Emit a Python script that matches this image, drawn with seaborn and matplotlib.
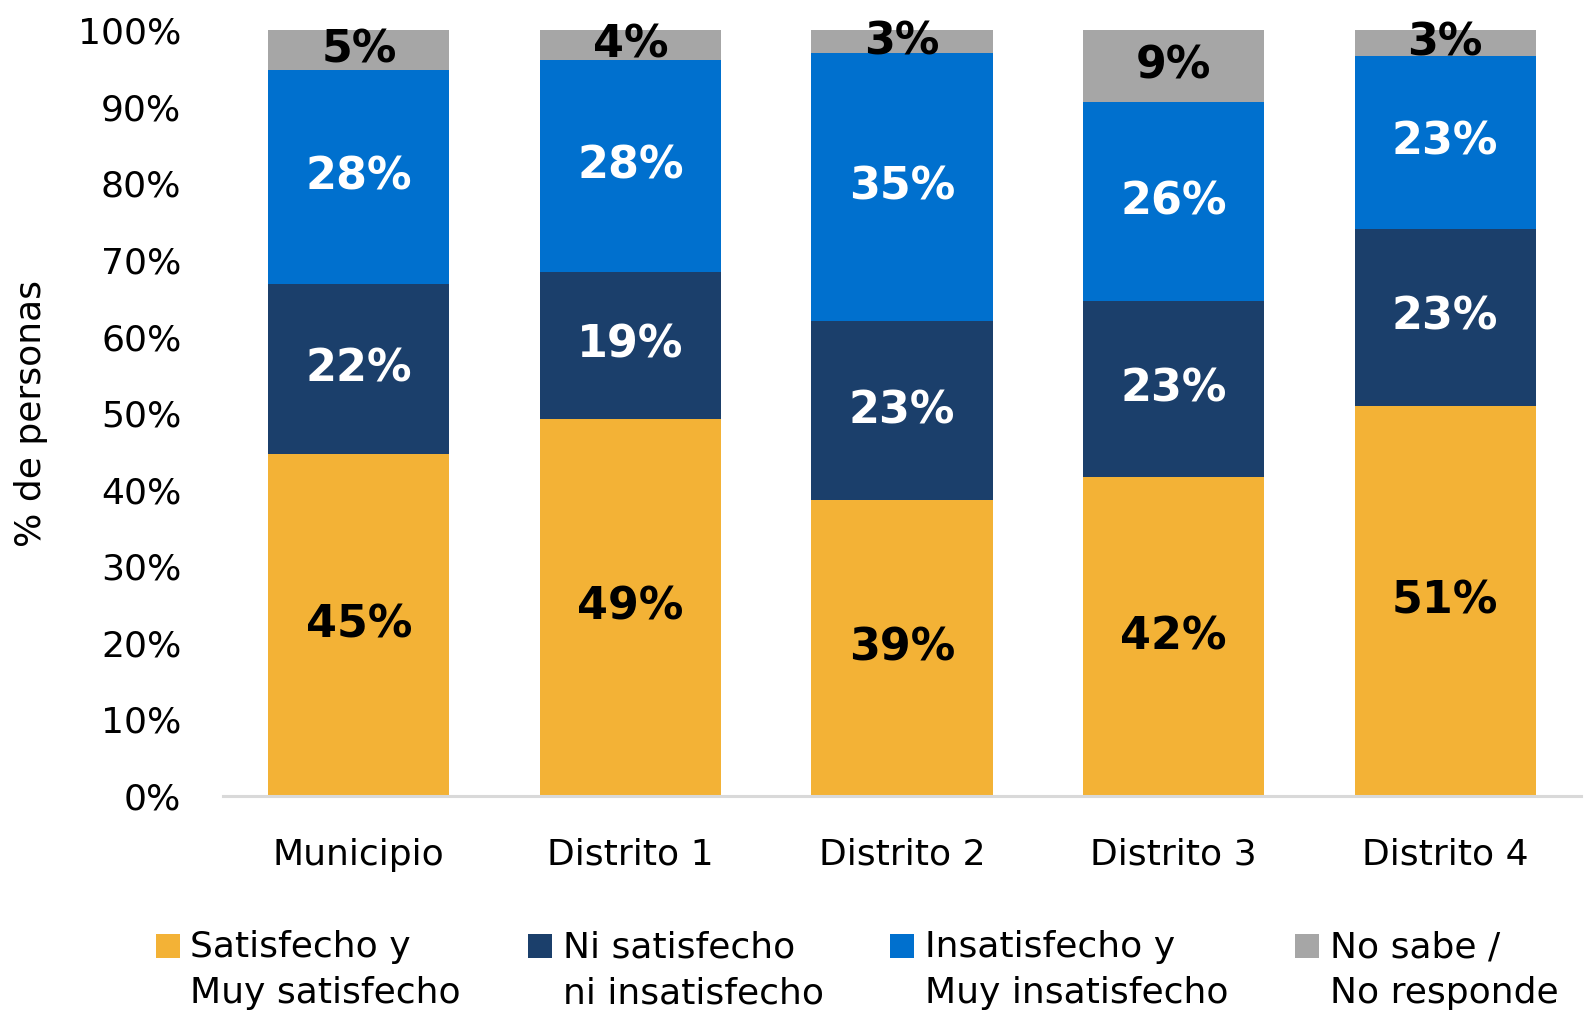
import numpy as np
import pandas as pd
import seaborn as sns
import matplotlib.pyplot as plt
from matplotlib.patches import Patch, Rectangle
from matplotlib.legend_handler import HandlerPatch

# datos (% de personas)
zonas = ['Municipio', 'Distrito 1', 'Distrito 2', 'Distrito 3', 'Distrito 4']
satisfecho = [44.6, 49.3, 38.6, 41.6, 50.9]
ni_ni = [22.3, 19.2, 23.4, 23.0, 23.2]
insatisfecho = [27.9, 27.6, 35.0, 26.0, 22.6]
no_sabe = [5.2, 3.9, 3.0, 9.4, 3.3]

series = ['Satisfecho y\nMuy satisfecho', 'Ni satisfecho\nni insatisfecho',
          'Insatisfecho y\nMuy insatisfecho', 'No sabe /\nNo responde']
colores = ['#F3B236', '#1B3F6B', '#0070CE', '#A6A6A6']
color_texto = ['black', 'white', 'white', 'black']

df = pd.DataFrame({'zona': zonas, series[0]: satisfecho, series[1]: ni_ni,
                   series[2]: insatisfecho, series[3]: no_sabe})
acum = df[series].cumsum(axis=1)
acum['zona'] = df['zona']

sns.set_theme(style='white')
plt.rcParams['font.family'] = ['DejaVu Sans']

fig = plt.figure(figsize=(15.9, 10.11), dpi=100)
ax = fig.add_axes([0.1403, 0.2127, 0.854, 0.7573])

# barras apiladas: se dibuja primero el acumulado mayor
for s, c in reversed(list(zip(series, colores))):
    sns.barplot(data=acum, x='zona', y=s, color=c, saturation=1, width=0.667,
                linewidth=0, ax=ax)

# etiquetas de valores
for j, s in enumerate(series):
    for i in range(len(zonas)):
        v = df[s].iloc[i]
        ax.text(i, acum[s].iloc[i] - v / 2, f'{v:.0f}%', ha='center', va='center',
                fontsize=32, fontweight='bold', color=color_texto[j])

ax.set_ylim(0, 100)
ax.set_xlim(-0.5, 4.5)
ax.set_yticks(np.arange(0, 101, 10))
ax.set_yticklabels([f'{t}%' for t in range(0, 101, 10)])
ax.tick_params(axis='both', length=0, labelsize=26, colors='black')
ax.tick_params(axis='y', pad=30)
ax.tick_params(axis='x', pad=30)
ax.set_xlabel('')
ax.set_ylabel('% de personas', fontsize=26, color='black')
ax.yaxis.set_label_coords(-0.129, 0.5)
for sp in ['top', 'right', 'left']:
    ax.spines[sp].set_visible(False)
ax.spines['bottom'].set_color('#D9D9D9')
ax.spines['bottom'].set_linewidth(2.2)


def cuadro(legend, orig_handle, xdescent, ydescent, width, height, fontsize):
    s = 0.66 * fontsize
    return Rectangle((-xdescent, -ydescent + height - s + 3), s, s)


handles = [Patch(facecolor=c, edgecolor='none') for c in colores]
leg = fig.legend(handles, series, loc='upper left', bbox_to_anchor=(0.098, 0.08),
                 ncol=4, frameon=False, fontsize=26, labelcolor='black',
                 handler_map={Patch: HandlerPatch(patch_func=cuadro)},
                 handlelength=0.66, handleheight=2.6, handletextpad=0.3,
                 columnspacing=1.85, borderpad=0, borderaxespad=0)
plt.setp(leg.get_texts(), linespacing=1.45)

fig.savefig('out.png', dpi=100)
